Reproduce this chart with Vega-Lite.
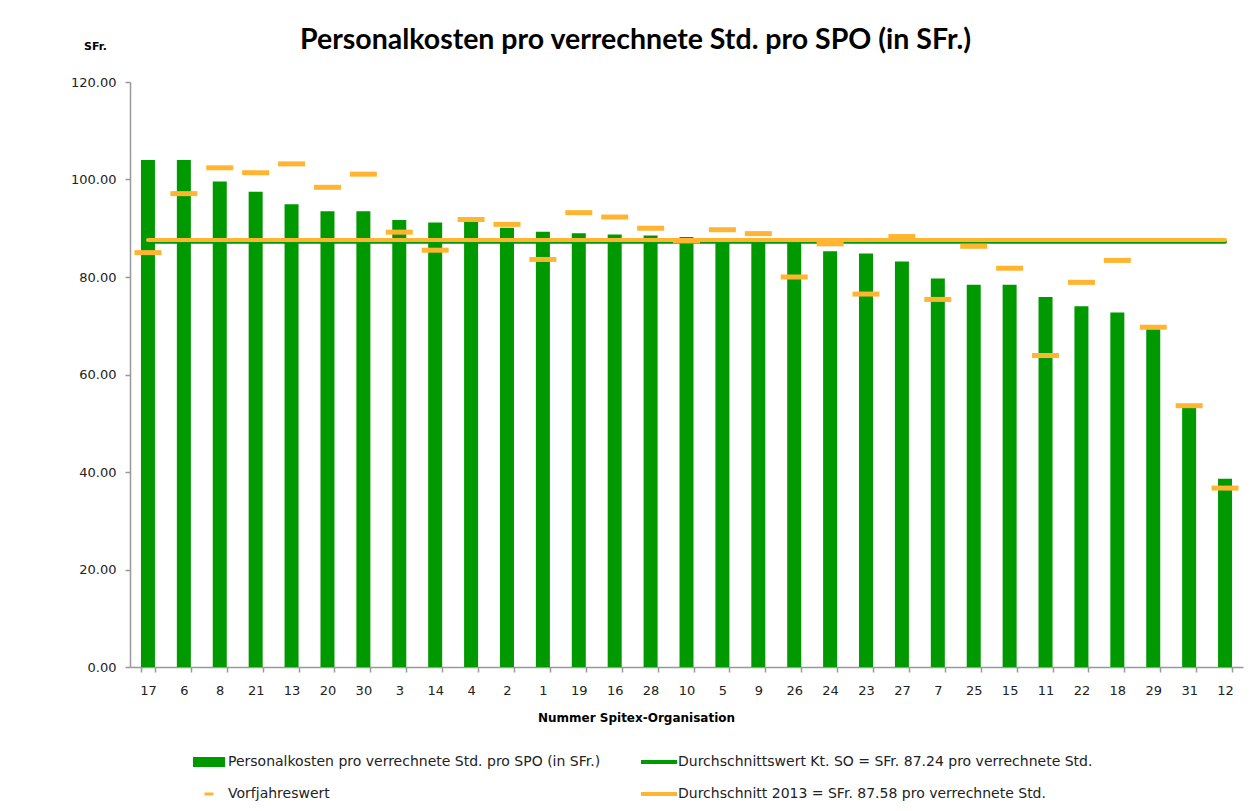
{
  "$schema": "https://vega.github.io/schema/vega-lite/v6.json",
  "width": 1113,
  "height": 585,
  "autosize": "none",
  "padding": {"left": 130, "top": 82, "right": 10, "bottom": 144},
  "background": "white",
  "title": {
    "text": "Personalkosten pro verrechnete Std. pro SPO (in SFr.)",
    "font": "Lato",
    "fontSize": 28.5,
    "fontWeight": "bold",
    "color": "#000000",
    "anchor": "middle",
    "frame": "group",
    "dx": -51,
    "baseline": "alphabetic",
    "offset": -37
  },
  "config": {
    "view": {"stroke": null},
    "axis": {
      "labelFont": "DejaVu Sans",
      "labelFontSize": 13,
      "labelColor": "#222222",
      "domainColor": "#999999",
      "tickColor": "#999999",
      "domainWidth": 1.5,
      "tickWidth": 1.5,
      "grid": false,
      "titleFont": "DejaVu Sans",
      "titleColor": "#000000"
    },
    "legend": {
      "labelFont": "DejaVu Sans",
      "labelFontSize": 14,
      "labelColor": "#222222"
    }
  },
  "data": {
    "values": [
      {"org": "17", "kosten": 104.0, "vorjahr": 85.0, "avg_so": 87.24, "avg_2013": 87.58},
      {"org": "6", "kosten": 104.0, "vorjahr": 97.1, "avg_so": 87.24, "avg_2013": 87.58},
      {"org": "8", "kosten": 99.6, "vorjahr": 102.4, "avg_so": 87.24, "avg_2013": 87.58},
      {"org": "21", "kosten": 97.5, "vorjahr": 101.4, "avg_so": 87.24, "avg_2013": 87.58},
      {"org": "13", "kosten": 94.9, "vorjahr": 103.2, "avg_so": 87.24, "avg_2013": 87.58},
      {"org": "20", "kosten": 93.5, "vorjahr": 98.4, "avg_so": 87.24, "avg_2013": 87.58},
      {"org": "30", "kosten": 93.5, "vorjahr": 101.1, "avg_so": 87.24, "avg_2013": 87.58},
      {"org": "3", "kosten": 91.7, "vorjahr": 89.2, "avg_so": 87.24, "avg_2013": 87.58},
      {"org": "14", "kosten": 91.2, "vorjahr": 85.5, "avg_so": 87.24, "avg_2013": 87.58},
      {"org": "4", "kosten": 91.4, "vorjahr": 91.8, "avg_so": 87.24, "avg_2013": 87.58},
      {"org": "2", "kosten": 90.1, "vorjahr": 90.8, "avg_so": 87.24, "avg_2013": 87.58},
      {"org": "1", "kosten": 89.3, "vorjahr": 83.6, "avg_so": 87.24, "avg_2013": 87.58},
      {"org": "19", "kosten": 89.0, "vorjahr": 93.2, "avg_so": 87.24, "avg_2013": 87.58},
      {"org": "16", "kosten": 88.7, "vorjahr": 92.3, "avg_so": 87.24, "avg_2013": 87.58},
      {"org": "28", "kosten": 88.5, "vorjahr": 90.0, "avg_so": 87.24, "avg_2013": 87.58},
      {"org": "10", "kosten": 88.2, "vorjahr": 87.4, "avg_so": 87.24, "avg_2013": 87.58},
      {"org": "5", "kosten": 87.7, "vorjahr": 89.7, "avg_so": 87.24, "avg_2013": 87.58},
      {"org": "9", "kosten": 87.4, "vorjahr": 88.9, "avg_so": 87.24, "avg_2013": 87.58},
      {"org": "26", "kosten": 87.0, "vorjahr": 80.0, "avg_so": 87.24, "avg_2013": 87.58},
      {"org": "24", "kosten": 85.3, "vorjahr": 86.8, "avg_so": 87.24, "avg_2013": 87.58},
      {"org": "23", "kosten": 84.8, "vorjahr": 76.5, "avg_so": 87.24, "avg_2013": 87.58},
      {"org": "27", "kosten": 83.2, "vorjahr": 88.3, "avg_so": 87.24, "avg_2013": 87.58},
      {"org": "7", "kosten": 79.7, "vorjahr": 75.4, "avg_so": 87.24, "avg_2013": 87.58},
      {"org": "25", "kosten": 78.4, "vorjahr": 86.3, "avg_so": 87.24, "avg_2013": 87.58},
      {"org": "15", "kosten": 78.4, "vorjahr": 81.8, "avg_so": 87.24, "avg_2013": 87.58},
      {"org": "11", "kosten": 75.9, "vorjahr": 63.9, "avg_so": 87.24, "avg_2013": 87.58},
      {"org": "22", "kosten": 74.0, "vorjahr": 78.9, "avg_so": 87.24, "avg_2013": 87.58},
      {"org": "18", "kosten": 72.7, "vorjahr": 83.4, "avg_so": 87.24, "avg_2013": 87.58},
      {"org": "29", "kosten": 69.3, "vorjahr": 69.7, "avg_so": 87.24, "avg_2013": 87.58},
      {"org": "31", "kosten": 53.2, "vorjahr": 53.6, "avg_so": 87.24, "avg_2013": 87.58},
      {"org": "12", "kosten": 38.6, "vorjahr": 36.7, "avg_so": 87.24, "avg_2013": 87.58}
    ]
  },
  "encoding": {
    "x": {
      "field": "org",
      "type": "nominal",
      "sort": null,
      "scale": {"paddingInner": 0.61, "paddingOuter": 0.305},
      "axis": {
        "title": "Nummer Spitex-Organisation",
        "titleFontSize": 12,
        "titleFontWeight": "bold",
        "titleX": 506,
        "titleY": 50,
        "titleAlign": "center",
        "titleBaseline": "middle",
        "labelAngle": 0,
        "labelPadding": 12,
        "tickSize": 5,
        "tickBand": "extent"
      }
    }
  },
  "layer": [
    {
      "mark": {"type": "bar", "color": "#009900"},
      "encoding": {
        "y": {
          "field": "kosten",
          "type": "quantitative",
          "scale": {"domain": [0, 120]},
          "axis": {
            "values": [0, 20, 40, 60, 80, 100, 120],
            "format": ".2f",
            "title": "SFr.",
            "titleAngle": 0,
            "titleFontSize": 11,
            "titleFontWeight": "bold",
            "titleX": -35,
            "titleY": -36,
            "titleAlign": "center",
            "titleBaseline": "middle",
            "tickSize": 5,
            "labelPadding": 9
          }
        },
        "color": {
          "datum": "Personalkosten pro verrechnete Std. pro SPO (in SFr.)",
          "scale": {
            "domain": [
              "Personalkosten pro verrechnete Std. pro SPO (in SFr.)",
              "Durchschnittswert Kt. SO = SFr. 87.24 pro verrechnete Std.",
              "Vorfjahreswert",
              "Durchschnitt 2013 = SFr. 87.58 pro verrechnete Std."
            ],
            "range": ["#009900", "#009900", "#FFB531", "#FFB531"]
          },
          "legend": {
            "title": null,
            "orient": "none",
            "legendX": 64,
            "legendY": 665,
            "direction": "horizontal",
            "columns": 2,
            "columnPadding": 40,
            "rowPadding": 10,
            "symbolSize": 900,
            "labelOffset": 4,
            "labelLimit": 600,
            "encode": {
              "symbols": {
                "update": {
                  "shape": {"signal": "datum.value === 'Vorfjahreswert' ? 'M-0.3,-0.1H0.3V0.1H-0.3Z' : (indexof(datum.value, 'Durchschnitt') === 0 ? 'M-1.2,-0.14H1.2V0.14H-1.2Z' : 'M-1.067,-0.333H1.067V0.333H-1.067Z')"},
                  "fill": {"signal": "(datum.value === 'Vorfjahreswert' || indexof(datum.value, '2013') >= 0) ? '#FFB531' : '#009900'"},
                  "stroke": {"value": "transparent"},
                  "strokeWidth": {"value": 0},
                  "size": {"value": 900},
                  "opacity": {"value": 1}
                }
              }
            }
          }
        }
      }
    },
    {
      "mark": {"type": "line", "strokeWidth": 4, "strokeCap": "round"},
      "encoding": {
        "y": {"field": "avg_so", "type": "quantitative"},
        "color": {"datum": "Durchschnittswert Kt. SO = SFr. 87.24 pro verrechnete Std."}
      }
    },
    {
      "mark": {"type": "line", "strokeWidth": 4, "strokeCap": "round"},
      "encoding": {
        "y": {"field": "avg_2013", "type": "quantitative"},
        "color": {"datum": "Durchschnitt 2013 = SFr. 87.58 pro verrechnete Std."}
      }
    },
    {
      "mark": {"type": "tick", "size": 27, "thickness": 5, "opacity": 1},
      "encoding": {
        "y": {"field": "vorjahr", "type": "quantitative"},
        "color": {"datum": "Vorfjahreswert"}
      }
    }
  ]
}
